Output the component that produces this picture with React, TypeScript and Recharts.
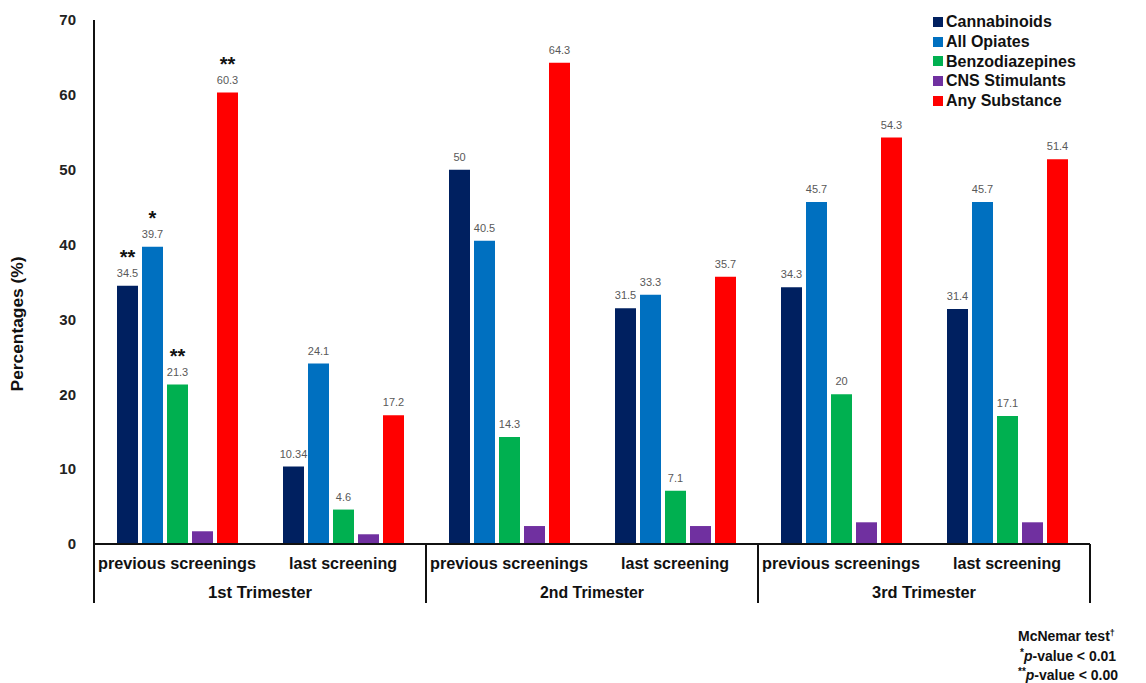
import React from 'react';
import { BarChart, Bar, XAxis, YAxis, LabelList, Label } from 'recharts';

// values
const categories = [
  'previous screenings', 'last screening',
  'previous screenings', 'last screening',
  'previous screenings', 'last screening',
];
const trimesters = ['1st Trimester', '2nd Trimester', '3rd Trimester'];

const cannabinoids = [34.5, 10.34, 50, 31.5, 34.3, 31.4];
const allOpiates = [39.7, 24.1, 40.5, 33.3, 45.7, 45.7];
const benzodiazepines = [21.3, 4.6, 14.3, 7.1, 20, 17.1];
const cnsStimulants = [1.7, 1.3, 2.4, 2.4, 2.9, 2.9];
const anySubstance = [60.3, 17.2, 64.3, 35.7, 54.3, 51.4];

const cannabinoidStars = ['**', '', '', '', '', ''];
const opiateStars = ['*', '', '', '', '', ''];
const benzoStars = ['**', '', '', '', '', ''];
const anyStars = ['**', '', '', '', '', ''];

const yTicks = [0, 10, 20, 30, 40, 50, 60, 70];

const footnote = ['McNemar test', 'p-value < 0.01', 'p-value < 0.00'];

const series = [
  { key: 'cannabinoids', name: 'Cannabinoids', color: '#002060', values: cannabinoids, stars: cannabinoidStars, labels: true },
  { key: 'allOpiates', name: 'All Opiates', color: '#0070C0', values: allOpiates, stars: opiateStars, labels: true },
  { key: 'benzodiazepines', name: 'Benzodiazepines', color: '#00B050', values: benzodiazepines, stars: benzoStars, labels: true },
  { key: 'cnsStimulants', name: 'CNS Stimulants', color: '#7030A0', values: cnsStimulants, stars: null, labels: false },
  { key: 'anySubstance', name: 'Any Substance', color: '#FF0000', values: anySubstance, stars: anyStars, labels: true },
];

const data = categories.map((c, i) => {
  const row: any = { category: c };
  series.forEach(s => { row[s.key] = s.values[i]; });
  return row;
});

const W = 1146;
const H = 683;
const LEFT = 94;
const RIGHT = 56;
const TOP = 20;
const BAND = (W - LEFT - RIGHT) / categories.length;
const FONT = '"Liberation Sans", Arial, sans-serif';

const CategoryTick = (props: any) => {
  const { x, y, payload, index } = props;
  const half = BAND / 2;
  const isFirst = index % 2 === 0;
  return (
    <g>
      <text x={x} y={y + 25} textAnchor="middle" fontFamily={FONT} fontWeight="bold" fontSize={17}
        fill="#111" textLength={payload.value.length > 15 ? 158 : 108} lengthAdjust="spacingAndGlyphs">
        {payload.value}
      </text>
      {isFirst && (
        <>
          <line x1={x - half} x2={x - half} y1={y} y2={y + 59} stroke="#111" strokeWidth={2} />
          <text x={x + half} y={y + 54} textAnchor="middle" fontFamily={FONT} fontWeight="bold" fontSize={17}
            fill="#111" textLength={104} lengthAdjust="spacingAndGlyphs">
            {trimesters[index / 2]}
          </text>
        </>
      )}
      {index === categories.length - 1 && (
        <line x1={x + half} x2={x + half} y1={y} y2={y + 59} stroke="#111" strokeWidth={2} />
      )}
    </g>
  );
};

const makeStars = (stars: string[]) => (props: any) => {
  const { x, y, width, index } = props;
  const s = stars[index];
  if (!s) return null;
  return (
    <text x={x + width / 2} y={y - 22} textAnchor="middle" fontFamily={FONT} fontWeight="bold" fontSize={20} fill="#111">
      {s}
    </text>
  );
};

const YTitle = (props: any) => {
  const { viewBox } = props;
  const cx = 18;
  const cy = viewBox.y + viewBox.height * 0.58;
  return (
    <text x={cx} y={cy} transform={`rotate(-90, ${cx}, ${cy})`} textAnchor="middle" dominantBaseline="central"
      fontFamily={FONT} fontWeight="bold" fontSize={16} fill="#111" textLength={135} lengthAdjust="spacingAndGlyphs">
      Percentages (%)
    </text>
  );
};

const supStyle: React.CSSProperties = { fontSize: 10, position: 'relative', top: -5 };
const lineStyle: React.CSSProperties = { height: 19.5, lineHeight: '19.5px' };

export default function App() {
  return (
    <div style={{ position: 'absolute', left: 0, top: 0, width: W, height: H, background: '#fff', fontFamily: FONT }}>
      <BarChart width={W} height={H} data={data} barGap={4} margin={{ top: TOP, right: RIGHT, left: 0, bottom: 69 }}>
        <XAxis dataKey="category" height={70} tickLine={false} tickSize={0} tickMargin={0} interval={0}
          axisLine={{ stroke: '#111', strokeWidth: 2 }} tick={<CategoryTick />} />
        <YAxis domain={[0, 70]} ticks={yTicks} width={LEFT} tickLine={false} tickSize={0} tickMargin={18}
          axisLine={{ stroke: '#111', strokeWidth: 2 }}
          tick={{ fontFamily: FONT, fontWeight: 'bold', fontSize: 15, fill: '#222' }}>
          <Label content={<YTitle />} />
        </YAxis>
        {series.map(s => (
          <Bar key={s.key} dataKey={s.key} name={s.name} fill={s.color} barSize={21} isAnimationActive={false}>
            {s.labels && (
              <LabelList dataKey={s.key} position="top" offset={9}
                style={{ fontFamily: FONT, fontSize: 11, fill: '#595959' }} />
            )}
            {s.stars && <LabelList dataKey={s.key} content={makeStars(s.stars)} />}
          </Bar>
        ))}
      </BarChart>

      <div style={{ position: 'absolute', left: 933, top: 12, fontWeight: 'bold', fontSize: 16, lineHeight: '19.8px', color: '#111' }}>
        {series.map(s => (
          <div key={s.key} style={{ display: 'flex', alignItems: 'center', whiteSpace: 'nowrap' }}>
            <span style={{ display: 'inline-block', width: 10, height: 10, background: s.color, marginRight: 3 }} />
            {s.name}
          </div>
        ))}
      </div>

      <div style={{ position: 'absolute', left: 1018, top: 627, fontWeight: 'bold', fontSize: 14, color: '#111', whiteSpace: 'nowrap' }}>
        <div style={lineStyle}>{footnote[0]}<span style={{ ...supStyle, fontSize: 9 }}>†</span></div>
        <div style={{ ...lineStyle, paddingLeft: 2 }}><span style={supStyle}>*</span><i>p</i>{footnote[1].slice(1)}</div>
        <div style={lineStyle}><span style={supStyle}>**</span><i>p</i>{footnote[2].slice(1)}</div>
      </div>
    </div>
  );
}
